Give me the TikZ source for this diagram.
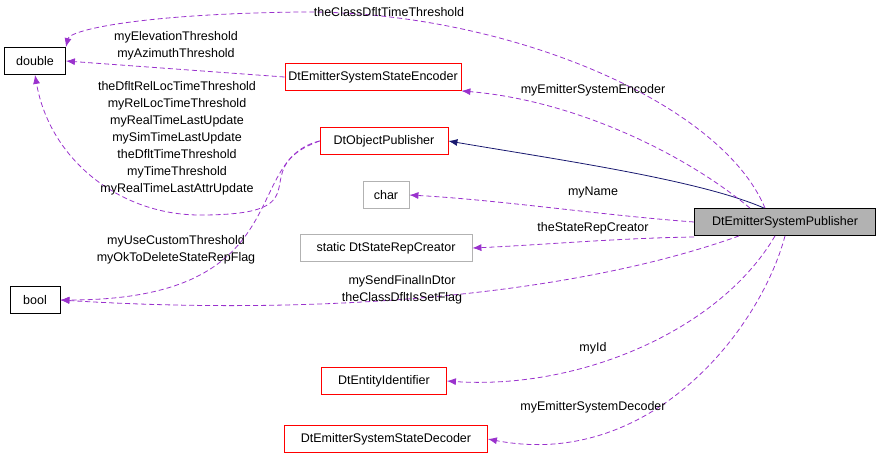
\documentclass[tikz,border=0pt]{standalone}
\usepackage{fontspec}
\setmainfont{Liberation Sans}
\usetikzlibrary{arrows.meta}
\definecolor{edgepurple}{HTML}{9A32CD}
\definecolor{edgenavy}{HTML}{191970}
\begin{document}
\begin{tikzpicture}[x=1pt,y=-1pt,font=\fontsize{12.5}{17}\selectfont,
    class node/.style={draw,line width=0.8pt,minimum height=27pt,inner xsep=3pt,inner ysep=0pt},
    red node/.style={class node,draw=red},
    gray node/.style={class node,draw=black!30},
    main node/.style={class node,fill=black!30},
    use/.style={draw=edgepurple,line width=0.8pt,dash pattern=on 5pt off 3pt,-{Latex[length=9pt,width=7pt]}},
    inherit/.style={draw=edgenavy,line width=0.8pt,-{Latex[length=9pt,width=7pt]}},
    lbl/.style={align=center,inner sep=0pt}]
    \useasboundingbox (0,0) rectangle (880,459);
    \node[class node,minimum width=61pt] (double) at (35,61) {double};
    \node[class node,minimum width=50pt] (bool) at (35,300) {bool};
    \node[red node,minimum width=176pt] (encoder) at (373,77) {DtEmitterSystemStateEncoder};
    \node[red node,minimum width=128pt] (objpub) at (384,141) {DtObjectPublisher};
    \node[gray node,minimum width=46pt] (char) at (386,195) {char};
    \node[gray node,minimum width=172pt] (creator) at (386,248) {static DtStateRepCreator};
    \node[main node,minimum width=181pt] (publisher) at (785,222) {DtEmitterSystemPublisher};
    \node[red node,minimum width=125pt] (entity) at (384,381) {DtEntityIdentifier};
    \node[red node,minimum width=203pt] (decoder) at (386,439) {DtEmitterSystemStateDecoder};

    \draw[inherit] (publisher.north west) ++(70,0) coordinate (p1)
        (p1) .. controls (700,180) and (560,160) .. (objpub.east);
    \path[use] (publisher.north) ++(-20,0) coordinate (p2)
        (p2) .. controls (720,100) and (500,10) .. (300,12) .. controls (140,14) and (70,30) .. (double.north east);
    \path[use] (encoder.west) -- (double.east);
    \path[use] (objpub.west) .. controls (240,170) and (330,215) .. (200,215) .. controls (120,215) and (50,160) .. (double.south);
    \path[use] (objpub.west) .. controls (240,160) and (300,300) .. (bool.east);
    \path[use] (p2) ++(-15,0) coordinate (p3)
        (p3) .. controls (680,150) and (570,100) .. (encoder.south east);
    \path[use] (publisher.west) .. controls (600,215) and (500,200) .. (char.east);
    \path[use] (publisher.west) ++(0,15) coordinate (p4)
        (p4) .. controls (620,238) and (540,245) .. (creator.east);
    \path[use] (publisher.south west) ++(45,0) coordinate (p5)
        (p5) .. controls (560,300) and (300,315) .. (bool.east);
    \path[use] (publisher.south) ++(-10,0) coordinate (p6)
        (p6) .. controls (720,330) and (580,390) .. (entity.east);
    \path[use] (publisher.south) coordinate (p7)
        (p7) .. controls (760,330) and (650,470) .. (decoder.east);

    \node[lbl] (l1) at (389,12) {theClassDfltTimeThreshold};
    \node[lbl] (l2) at (176,46) {myElevationThreshold\\myAzimuthThreshold};
    \node[lbl] (l3) at (177,138) {theDfltRelLocTimeThreshold\\myRelLocTimeThreshold\\myRealTimeLastUpdate\\mySimTimeLastUpdate\\theDfltTimeThreshold\\myTimeThreshold\\myRealTimeLastAttrUpdate};
    \node[lbl] (l4) at (176,250) {myUseCustomThreshold\\myOkToDeleteStateRepFlag};
    \node[lbl] (l5) at (593,90) {myEmitterSystemEncoder};
    \node[lbl] (l6) at (593,192) {myName};
    \node[lbl] (l7) at (593,228) {theStateRepCreator};
    \node[lbl] (l8) at (402,290) {mySendFinalInDtor\\theClassDfltIsSetFlag};
    \node[lbl] (l9) at (593,348) {myId};
    \node[lbl] (l10) at (593,407) {myEmitterSystemDecoder};
\end{tikzpicture}
\end{document}
